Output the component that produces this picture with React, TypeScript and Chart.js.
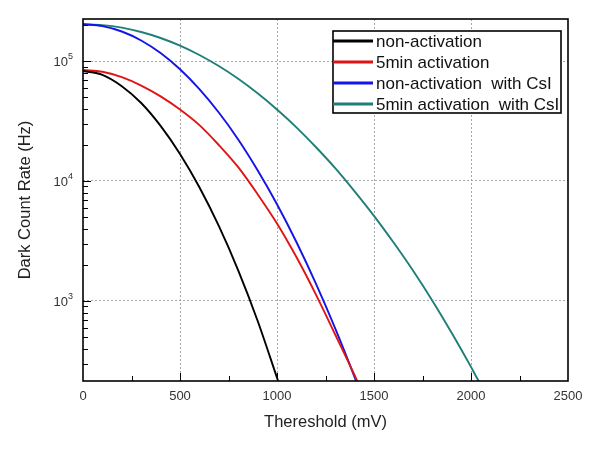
import React, { useEffect, useRef } from 'react';
import { Chart, registerables } from 'chart.js';

Chart.register(...registerables);

// Threshold (mV) sample positions and dark count rates (Hz)
const xNonAct = [0, 100, 200, 300, 400, 500, 600, 700, 800, 900, 1000, 1010];
const yNonAct = [82600, 76700, 61700, 44700, 28800, 16800, 8870, 4220, 1800, 684, 229, 205];

const xAct5 = [0, 100, 200, 300, 400, 500, 600, 700, 800, 900, 1000, 1100, 1200, 1300, 1400, 1415];
const yAct5 = [84100, 81300, 73300, 62400, 50700, 39400, 29200, 19950, 13030, 7760, 4420, 2320, 1135, 525, 240, 212];

const xNonActCsI = [0, 100, 200, 300, 400, 500, 600, 700, 800, 900, 1000, 1100, 1200, 1300, 1400, 1415];
const yNonActCsI = [202300, 195400, 176200, 148300, 116400, 85300, 58300, 37200, 22200, 12300, 6400, 3100, 1400, 590, 232, 200];

const xAct5CsI = [0, 100, 200, 300, 400, 500, 600, 700, 800, 900, 1000, 1100, 1200, 1300, 1400, 1500, 1600, 1700, 1800, 1900, 2000, 2040, 2050];
const yAct5CsI = [202300, 199100, 189700, 174600, 155600, 134300, 112200, 90800, 71100, 53800, 39400, 28000, 19200, 12800, 8200, 5120, 3080, 1800, 1010, 543, 282, 215, 205];

const seriesLabels = ['non-activation', '5min activation', 'non-activation  with CsI', '5min activation  with CsI'];
const seriesColors = ['#000000', '#e01414', '#1414e6', '#1f7f78'];

const xMin = 0;
const xMax = 2500;
const xMajorStep = 500;
const xMinorStep = 250;
const yMin = 215;
const yMax = 224000;

const xTitle = 'Thereshold (mV)';
const yTitle = 'Dark Count Rate (Hz)';

const FONT = '"Liberation Sans", Arial, sans-serif';

const zip = (xs: number[], ys: number[]) => xs.map((x, i) => ({ x, y: ys[i] }));

const isPow10 = (v: number) => {
  const l = Math.log10(v);
  return Math.abs(l - Math.round(l)) < 1e-9;
};
const isIntSignificand = (v: number) => {
  const s = v / Math.pow(10, Math.floor(Math.log10(v) + 1e-12));
  return Math.abs(s - Math.round(s)) < 1e-6;
};

const overlayPlugin = {
  id: 'overlay',
  afterDraw(chart: any) {
    const { ctx, chartArea: a } = chart;
    const xs = chart.scales.x;
    const ys = chart.scales.y;
    ctx.save();

    // tick marks (inward)
    ctx.strokeStyle = '#000';
    ctx.lineWidth = 1;
    ctx.beginPath();
    xs.ticks.forEach((t: any) => {
      if (t.value <= xMin || t.value >= xMax) return;
      const px = Math.round(xs.getPixelForValue(t.value)) + 0.5;
      const len = t.value % xMajorStep === 0 ? 8 : 5;
      ctx.moveTo(px, a.bottom);
      ctx.lineTo(px, a.bottom - len);
    });
    ys.ticks.forEach((t: any) => {
      const v = t.value;
      if (v <= yMin || v >= yMax || !isIntSignificand(v)) return;
      const py = Math.round(ys.getPixelForValue(v)) + 0.5;
      const len = isPow10(v) ? 8 : 5;
      ctx.moveTo(a.left, py);
      ctx.lineTo(a.left + len, py);
    });
    ctx.stroke();

    // frame
    ctx.lineWidth = 1.6;
    ctx.strokeRect(a.left, a.top, a.right - a.left, a.bottom - a.top);

    // y tick labels with superscript exponents
    ctx.fillStyle = '#333';
    ys.ticks.forEach((t: any) => {
      const v = t.value;
      if (v < yMin || v > yMax || !isPow10(v)) return;
      const py = ys.getPixelForValue(v);
      const exp = Math.round(Math.log10(v));
      ctx.font = `13px ${FONT}`;
      ctx.textAlign = 'right';
      ctx.textBaseline = 'middle';
      ctx.fillText('10', a.left - 15, py + 1);
      ctx.font = `9px ${FONT}`;
      ctx.textAlign = 'left';
      ctx.fillText(String(exp), a.left - 15, py - 4);
    });

    // axis titles
    ctx.fillStyle = '#222';
    ctx.font = `16.5px ${FONT}`;
    ctx.textAlign = 'center';
    ctx.textBaseline = 'middle';
    ctx.fillText(xTitle, (a.left + a.right) / 2, a.bottom + 41);
    ctx.save();
    ctx.translate(25, (a.top + a.bottom) / 2);
    ctx.rotate(-Math.PI / 2);
    ctx.fillText(yTitle, 0, 0);
    ctx.restore();

    // legend
    const bx = a.right - 235;
    const by = a.top + 12;
    const bw = 228;
    const bh = 82;
    ctx.fillStyle = '#fff';
    ctx.fillRect(bx, by, bw, bh);
    ctx.strokeStyle = '#000';
    ctx.lineWidth = 1.6;
    ctx.strokeRect(bx, by, bw, bh);
    chart.data.datasets.forEach((ds: any, i: number) => {
      const ry = by + 10 + i * 21;
      ctx.strokeStyle = ds.borderColor;
      ctx.lineWidth = 2.8;
      ctx.beginPath();
      ctx.moveTo(bx, ry);
      ctx.lineTo(bx + 40, ry);
      ctx.stroke();
      ctx.fillStyle = '#111';
      ctx.font = `17px ${FONT}`;
      ctx.textAlign = 'left';
      ctx.textBaseline = 'middle';
      ctx.fillText(ds.label, bx + 43, ry + 1);
    });

    ctx.restore();
  },
};

export default function App() {
  const ref = useRef<HTMLCanvasElement | null>(null);

  useEffect(() => {
    if (!ref.current) return;
    const series = [
      zip(xNonAct, yNonAct),
      zip(xAct5, yAct5),
      zip(xNonActCsI, yNonActCsI),
      zip(xAct5CsI, yAct5CsI),
    ];
    const chart = new Chart(ref.current, {
      type: 'line',
      data: {
        datasets: series.map((data, i) => ({
          label: seriesLabels[i],
          data,
          borderColor: seriesColors[i],
          backgroundColor: seriesColors[i],
          borderWidth: 1.9,
          pointRadius: 0,
          cubicInterpolationMode: 'monotone' as const,
          fill: false,
        })),
      },
      options: {
        animation: false,
        responsive: false,
        maintainAspectRatio: false,
        layout: { padding: { left: 0, top: 19, right: 30, bottom: 0 } },
        plugins: {
          legend: { display: false },
          tooltip: { enabled: false },
          title: { display: false },
        },
        scales: {
          x: {
            type: 'linear',
            min: xMin,
            max: xMax,
            afterFit: (s: any) => { s.height = 68; },
            ticks: {
              stepSize: xMinorStep,
              autoSkip: false,
              maxRotation: 0,
              padding: 8,
              color: '#333',
              font: { family: FONT, size: 13 },
              callback: (v: any) => (Number(v) % xMajorStep === 0 ? String(v) : ''),
            },
            grid: {
              drawTicks: false,
              lineWidth: 1,
              color: (c: any) => {
                const v = c.tick && c.tick.value;
                return v > xMin && v < xMax && v % xMajorStep === 0 ? '#a8a8a8' : 'rgba(0,0,0,0)';
              },
            },
            border: { display: false, dash: [2, 2] },
          },
          y: {
            type: 'logarithmic',
            min: yMin,
            max: yMax,
            afterFit: (s: any) => { s.width = 83; },
            ticks: { display: false, autoSkip: false },
            grid: {
              drawTicks: false,
              lineWidth: 1,
              color: (c: any) => {
                const v = c.tick && c.tick.value;
                return v > yMin && v < yMax && isPow10(v) ? '#a8a8a8' : 'rgba(0,0,0,0)';
              },
            },
            border: { display: false, dash: [2, 2] },
          },
        },
      },
      plugins: [overlayPlugin],
    });
    return () => chart.destroy();
  }, []);

  return (
    <div style={{ position: 'fixed', left: 0, top: 0, width: 598, height: 449, background: '#fff' }}>
      <canvas ref={ref} width={598} height={449} style={{ width: 598, height: 449, display: 'block' }} />
    </div>
  );
}
